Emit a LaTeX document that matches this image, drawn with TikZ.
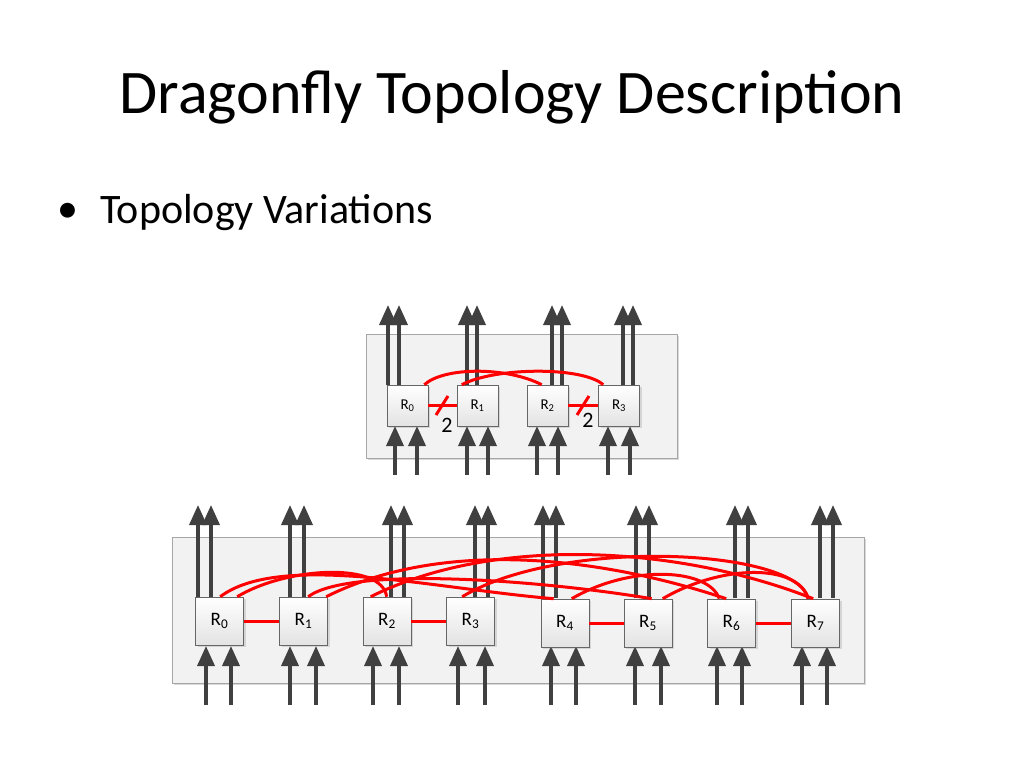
\documentclass[tikz,border=0pt]{standalone}
\usepackage{fontspec}
\setmainfont{Carlito}
\usetikzlibrary{arrows.meta,shadows,calc}
\definecolor{arr}{HTML}{404040}
\tikzset{
 router/.style={draw=gray!80!black,line width=0.6pt,top color=white,bottom color=gray!22,minimum width=41pt,minimum height=41pt,inner sep=0pt,drop shadow={shadow xshift=2pt,shadow yshift=-2pt,opacity=0.25},font=\fontsize{15}{15}\selectfont},
 bigrouter/.style={router,minimum width=48pt,minimum height=48pt,font=\fontsize{19}{19}\selectfont},
 panel/.style={draw=gray!70,fill=gray!10,line width=0.8pt,drop shadow={shadow xshift=2pt,shadow yshift=-2pt,opacity=0.3}},
 uparr/.style={draw=arr,line width=3.5pt,-{Triangle[width=17pt,length=20pt]}},
 redl/.style={draw=red,line width=3pt},
}
\begin{document}
\begin{tikzpicture}[x=1pt,y=-1pt]
\useasboundingbox (0,0) rectangle (1024,768);
\node[anchor=center,font=\fontsize{62}{62}\selectfont] (title) at (512,97) {Dragonfly Topology Description};
\node[anchor=center,font=\fontsize{42}{42}\selectfont] (dot) at (68,213) {\textbullet};
\node[anchor=west,inner sep=0pt,font=\fontsize{42}{42}\selectfont] (bul) at (100,213) {Topology Variations};
% top group
\node[panel,minimum width=311pt,minimum height=124pt,anchor=north west] (p1) at (366,334) {};
\foreach \x in {388,399,467,477,552,562,623,633}{\draw[uparr] (\x,385) -- (\x,305);}
\foreach \x in {395,417,467,488,537,558,608,630}{\draw[uparr] (\x,475) -- (\x,426);}
\node[router] (t0) at (407.5,405.5) {R\textsubscript{0}};
\node[router] (t1) at (477.5,405.5) {R\textsubscript{1}};
\node[router] (t2) at (547.5,405.5) {R\textsubscript{2}};
\node[router] (t3) at (619,405.5) {R\textsubscript{3}};
\draw[redl] (t0.east) -- (t1.west);
\draw[redl] (t2.east) -- (t3.west);
\draw[redl] (436,415) -- (448,396);
\draw[redl] (577,415) -- (589,396);
\node[font=\fontsize{22}{22}\selectfont] (n1) at (447,425) {2};
\node[font=\fontsize{22}{22}\selectfont] (n2) at (588,420) {2};
\draw[redl] ([xshift=-4pt]t0.north east) .. controls +(20,-18) and +(-35,-18) .. ([xshift=15pt]t2.north west);
\draw[redl] ([xshift=5pt]t1.north west) .. controls +(35,-18) and +(-20,-18) .. ([xshift=5pt]t3.north west);
% bottom group
\node[panel,minimum width=692pt,minimum height=146pt,anchor=north west] (p2) at (172,537) {};
\foreach \x in {198,211,290,304,391,404,475,488,543,556,636,649,735,748,820,833}{\draw[uparr] (\x,598) -- (\x,505);}
\foreach \x in {206,231,290,316,373,399,458,485,551,576,635,661,717,742,802,827}{\draw[uparr] (\x,705) -- (\x,646);}
\node[bigrouter] (b0) at (219.5,621) {R\textsubscript{0}};
\node[bigrouter] (b1) at (303.5,621) {R\textsubscript{1}};
\node[bigrouter] (b2) at (387,621) {R\textsubscript{2}};
\node[bigrouter] (b3) at (470.5,621) {R\textsubscript{3}};
\node[bigrouter] (b4) at (565,623) {R\textsubscript{4}};
\node[bigrouter] (b5) at (648,623) {R\textsubscript{5}};
\node[bigrouter] (b6) at (731.5,623) {R\textsubscript{6}};
\node[bigrouter] (b7) at (815.5,623) {R\textsubscript{7}};
\draw[redl] (b0.east) -- (b1.west);
\draw[redl] (b2.east) -- (b3.west);
\draw[redl] (b4.east) -- (b5.west);
\draw[redl] (b6.east) -- (b7.west);
\draw[redl] ([xshift=25pt]b0.north west) .. controls +(60,-45) and +(-120,-10) .. ([xshift=13pt]b4.north west);
\draw[redl] ([xshift=42pt]b0.north west) .. controls +(50,-30) and +(-5,-35) .. ([xshift=24pt]b2.north west);
\draw[redl] ([xshift=29pt]b1.north west) .. controls +(40,-30) and +(-120,-20) .. ([xshift=28pt]b5.north west);
\draw[redl] ([xshift=47pt]b1.north west) .. controls +(120,-60) and +(-120,-40) .. ([xshift=19pt]b6.north west);
\draw[redl] ([xshift=8pt]b2.north west) .. controls +(120,-60) and +(-140,-55) .. ([xshift=22pt]b7.north west);
\draw[redl] ([xshift=16pt]b3.north west) .. controls +(100,-60) and +(-10,-50) .. ([xshift=17pt]b7.north west);
\draw[redl] ([xshift=31pt]b4.north west) .. controls +(60,-35) and +(-10,-30) .. ([xshift=12pt]b6.north west);
\draw[redl] ([xshift=39pt]b5.north west) .. controls +(60,-35) and +(-10,-35) .. ([xshift=17pt]b7.north west);
\end{tikzpicture}
\end{document}
